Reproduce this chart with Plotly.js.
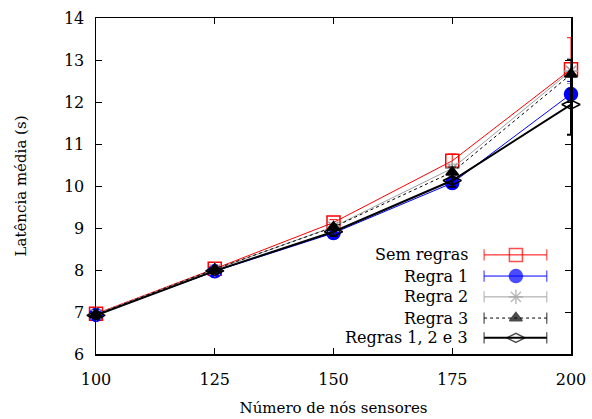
<!DOCTYPE html>
<html>
<head>
<meta charset="utf-8">
<script src="https://cdn.plot.ly/plotly-3.0.1.min.js"></script>
<style>html,body{margin:0;padding:0;background:#fff}#chart{width:592px;height:419px}</style>
</head>
<body>
<div id="chart"></div>
<script>
// Número de nós sensores
const nodes = [100, 125, 150, 175, 200];

// Latência média (s) and error per rule set
const seriesNames = ['Sem regras', 'Regra 1', 'Regra 2', 'Regra 3', 'Regras 1, 2 e 3'];
const semRegras    = [6.96, 8.03, 9.13, 10.60, 12.78];
const semRegrasErr = [0.06, 0.05, 0.07, 0.16, 0.75];
const regra1       = [6.93, 7.97, 8.88, 10.07, 12.19];
const regra1Err    = [0.05, 0.05, 0.07, 0.08, 0.30];
const regra2       = [6.95, 8.01, 9.03, 10.42, 12.74];
const regra2Err    = [0.05, 0.05, 0.06, 0.10, 0.30];
const regra3       = [6.94, 8.02, 9.02, 10.33, 12.66];
const regra3Err    = [0.05, 0.05, 0.06, 0.12, 0.35];
const regras123    = [6.92, 7.98, 8.91, 10.13, 11.94];
const regras123Err = [0.07, 0.06, 0.10, 0.15, 0.72];

const xTicks = [100, 125, 150, 175, 200];
const yTicks = [6, 7, 8, 9, 10, 11, 12, 13, 14];

const FONT = 'DejaVu Serif';

const styles = [
  {color: '#ff0000', dash: 'solid', width: 1, symbol: 'square-open', size: 13, mcolor: '#ff0000'},
  {color: '#0000ff', dash: 'solid', width: 1, symbol: 'circle', size: 13, mcolor: '#0000ff'},
  {color: '#a0a0a0', dash: 'solid', width: 1, symbol: 'asterisk-open', size: 12, mcolor: '#a0a0a0'},
  {color: '#000000', dash: 'dot', width: 1, symbol: 'triangle-up', size: 11, mcolor: '#000000'},
  {color: '#000000', dash: 'solid', width: 2, symbol: 'diamond-wide-open', size: 13, mcolor: '#000000'}
];
const values = [semRegras, regra1, regra2, regra3, regras123];
const errors = [semRegrasErr, regra1Err, regra2Err, regra3Err, regras123Err];

const traces = [];
values.forEach((v, i) => {
  const s = styles[i];
  traces.push({
    x: nodes, y: v, name: seriesNames[i], type: 'scatter', mode: 'lines+markers',
    line: {color: s.color, width: s.width, dash: s.dash},
    marker: {symbol: s.symbol, size: s.size, color: s.mcolor, line: {color: s.mcolor, width: 1.5}},
    error_y: {type: 'data', array: errors[i], visible: true, color: s.color, thickness: s.width, width: 4},
    showlegend: false, cliponaxis: false
  });
});

// Key: text right-aligned, then a sample line with caps and the marker
const keyX0 = 0.817, keyXm = 0.884, keyX1 = 0.949, keyText = 0.787;
const keyRows = [0.295, 0.232, 0.170, 0.107, 0.048];
const annotations = [];
styles.forEach((s, i) => {
  const y = keyRows[i];
  traces.push({
    x: [keyX0, keyX1], y: [y, y], xaxis: 'x2', yaxis: 'y2', type: 'scatter', mode: 'lines',
    line: {color: s.color, width: s.width, dash: s.dash}, showlegend: false, hoverinfo: 'skip'
  });
  traces.push({
    x: [keyX0, keyXm, keyX1], y: [y, y, y], xaxis: 'x2', yaxis: 'y2', type: 'scatter', mode: 'markers',
    marker: {symbol: ['line-ns', s.symbol, 'line-ns'], size: [8, s.size, 8], color: s.mcolor,
             line: {color: s.mcolor, width: [1.2, 1.5, 1.2]}},
    showlegend: false, hoverinfo: 'skip', cliponaxis: false
  });
  annotations.push({
    xref: 'paper', yref: 'paper', x: keyText, y: y, xanchor: 'right', yanchor: 'middle',
    text: seriesNames[i], showarrow: false, font: {family: FONT, size: 16, color: '#000'}
  });
});

const layout = {
  width: 592, height: 419,
  margin: {l: 96, r: 21, t: 18, b: 65},
  paper_bgcolor: '#fff', plot_bgcolor: '#fff',
  font: {family: FONT, size: 16, color: '#000'},
  showlegend: false,
  xaxis: {
    range: [100, 200], tickvals: xTicks, ticktext: xTicks.map(String),
    ticks: 'inside', ticklen: 6, tickwidth: 1, tickcolor: '#000',
    showline: true, linecolor: '#000', linewidth: 1.5, mirror: 'ticks',
    showgrid: false, zeroline: false, ticklabelstandoff: 10,
    tickfont: {family: FONT, size: 16},
    title: {text: 'Número de nós sensores', font: {family: FONT, size: 15}, standoff: 15}
  },
  yaxis: {
    range: [6, 14], tickvals: yTicks, ticktext: yTicks.map(String),
    ticks: 'inside', ticklen: 6, tickwidth: 1, tickcolor: '#000',
    showline: true, linecolor: '#000', linewidth: 1.5, mirror: 'ticks',
    showgrid: false, zeroline: false, ticklabelstandoff: 7,
    tickfont: {family: FONT, size: 16},
    title: {text: 'Latência média (s)', font: {family: FONT, size: 15}, standoff: 33}
  },
  xaxis2: {overlaying: 'x', range: [0, 1], visible: false, fixedrange: true},
  yaxis2: {overlaying: 'y', range: [0, 1], visible: false, fixedrange: true},
  annotations: annotations
};

Plotly.newPlot('chart', traces, layout, {staticPlot: true, displayModeBar: false});
</script>
</body>
</html>
